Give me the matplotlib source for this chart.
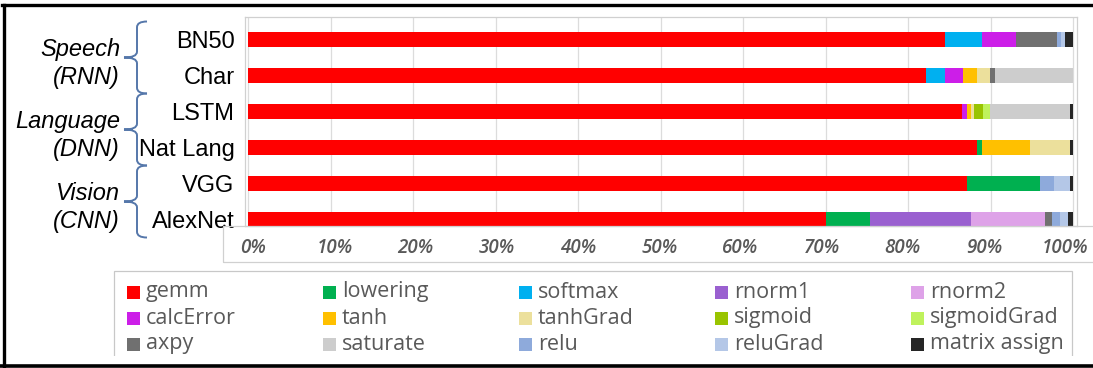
import matplotlib
matplotlib.use("Agg")
import matplotlib.pyplot as plt
import matplotlib.transforms as mtransforms
from matplotlib.patches import Rectangle, PathPatch
from matplotlib.path import Path
from matplotlib.lines import Line2D

# ---- data: share of GPU time per kernel (%) ----
models = ["BN50", "Char", "LSTM", "Nat Lang", "VGG", "AlexNet"]
domains = ["Speech", "Language", "Vision"]
net_types = ["(RNN)", "(DNN)", "(CNN)"]

kernels = ["gemm", "lowering", "softmax", "rnorm1", "rnorm2",
           "calcError", "tanh", "tanhGrad", "sigmoid", "sigmoidGrad",
           "axpy", "saturate", "relu", "reluGrad", "matrix assign"]
kernel_colors = ["#ff0000", "#00b050", "#00b0f0", "#9a60d0", "#dea2e8",
                 "#cc1ee8", "#ffc000", "#ece09c", "#99c400", "#bff25c",
                 "#707070", "#cdcdcd", "#8eaadb", "#b4c7e7", "#262626"]

gemm          = [84.5, 82.2, 86.5, 88.3, 87.1, 70.1]
lowering      = [0.0,  0.0,  0.0,  0.6,  8.9,  5.3]
softmax       = [4.4,  2.3,  0.0,  0.0,  0.0,  0.0]
rnorm1        = [0.0,  0.0,  0.0,  0.0,  0.0,  12.2]
rnorm2        = [0.0,  0.0,  0.0,  0.0,  0.0,  9.0]
calcError     = [4.2,  2.1,  0.6,  0.0,  0.0,  0.0]
tanh          = [0.0,  1.7,  0.5,  5.9,  0.0,  0.0]
tanhGrad      = [0.0,  1.6,  0.4,  4.8,  0.0,  0.0]
sigmoid       = [0.0,  0.0,  1.1,  0.0,  0.0,  0.0]
sigmoidGrad   = [0.0,  0.0,  0.8,  0.0,  0.0,  0.0]
axpy          = [4.9,  0.6,  0.0,  0.0,  0.0,  0.8]
saturate      = [0.0,  9.5,  9.7,  0.0,  0.0,  0.0]
relu          = [0.6,  0.0,  0.0,  0.0,  1.7,  1.0]
reluGrad      = [0.4,  0.0,  0.0,  0.0,  1.9,  1.0]
matrix_assign = [1.0,  0.0,  0.4,  0.4,  0.4,  0.6]

series = [gemm, lowering, softmax, rnorm1, rnorm2, calcError, tanh, tanhGrad,
          sigmoid, sigmoidGrad, axpy, saturate, relu, reluGrad, matrix_assign]

x_ticks = list(range(0, 101, 10))
x_tick_labels = [f"{v}%" for v in x_ticks]

# ---- figure ----
W, H = 1093, 368
fig = plt.figure(figsize=(W / 100, H / 100), dpi=100)
fig.patch.set_facecolor("white")


def fx(px):
    return px / W


def fy(py):
    return 1 - py / H


ax = fig.add_axes([fx(245), fy(226), fx(1077) - fx(245), fy(17) - fy(226)])

rows = list(range(len(models)))
left = [0.0] * len(models)
for name, color, vals in zip(kernels, kernel_colors, series):
    ax.barh(rows, vals, left=left, height=0.4, color=color,
            edgecolor="none", label=name, zorder=3)
    left = [l + v for l, v in zip(left, vals)]

ax.set_xlim(-0.42, 100.48)
ax.set_ylim(5.18, -0.625)

# vertical gridlines
for v in x_ticks:
    ax.axvline(v, color="#dcdcdc", lw=0.9, zorder=1)

for sp in ax.spines.values():
    sp.set_color("#d0d0d0")
    sp.set_linewidth(0.9)

ax.set_yticks(rows)
ax.set_yticklabels(models, fontsize=17, family="Liberation Sans", color="black")
ax.set_xticks(x_ticks)
ax.set_xticklabels(x_tick_labels, fontsize=13.5, family="Open Sans",
                   style="italic", fontweight="semibold", color="#595959")
ax.tick_params(axis="y", length=0, pad=7.5)
ax.tick_params(axis="x", length=0, pad=8.5)
# the percentage labels sit on a slightly tighter pitch than the gridlines
for v, lbl in zip(x_ticks, ax.get_xticklabels()):
    shift_px = 5 - 13 * v / 100
    lbl.set_transform(lbl.get_transform() +
                      mtransforms.ScaledTranslation(shift_px / 100, 0,
                                                    fig.dpi_scale_trans))

# box around the tick-label strip (runs off the right edge)
fig.add_artist(Rectangle((fx(223), fy(262)), fx(1110) - fx(223), fy(226) - fy(262),
                         transform=fig.transFigure, fill=False,
                         edgecolor="#d0d0d0", lw=0.9))

# ---- domain labels and braces ----
trans = mtransforms.blended_transform_factory(fig.transFigure, ax.transData)
for g, (dom, kind) in enumerate(zip(domains, net_types)):
    mid = 2 * g + 0.5
    top, bot = mid - 1.0, mid + 1.0
    ax.text(fx(120), mid - 0.22, dom, transform=trans, ha="right", va="center",
            fontsize=17, family="Liberation Sans", style="italic")
    ax.text(fx(120), mid + 0.56, kind, transform=trans, ha="right", va="center",
            fontsize=17, family="Liberation Sans", style="italic")
    xr, xm, xt, r = fx(147), fx(137), fx(124), 0.16
    verts = [(xr, top), (xm, top), (xm, top + r),
             (xm, mid - r),
             (xm, mid), (xt, mid),
             (xm, mid), (xm, mid + r),
             (xm, bot - r),
             (xm, bot), (xr, bot)]
    codes = [Path.MOVETO, Path.CURVE3, Path.CURVE3,
             Path.LINETO,
             Path.CURVE3, Path.CURVE3,
             Path.CURVE3, Path.CURVE3,
             Path.LINETO,
             Path.CURVE3, Path.CURVE3]
    ax.add_patch(PathPatch(Path(verts, codes), transform=trans, fill=False,
                           edgecolor="#5577aa", lw=1.4, clip_on=False))

# ---- legend (5 columns x 3 rows) ----
fig.add_artist(Rectangle((fx(114), fy(380)), fx(1072) - fx(114), fy(271) - fy(380),
                         transform=fig.transFigure, fill=False,
                         edgecolor="#c8c8c8", lw=0.9))
col_x = [127, 323, 519, 715, 911]
row_y = [292, 318, 344]
for i, (name, color) in enumerate(zip(kernels, kernel_colors)):
    cx, cy = col_x[i % 5], row_y[i // 5]
    fig.add_artist(Rectangle((fx(cx), fy(cy + 6.5)), fx(13), 13 / H,
                             transform=fig.transFigure, facecolor=color,
                             edgecolor="none"))
    fig.text(fx(cx + 19), fy(cy), name, ha="left", va="center",
             fontsize=15.5, family="Open Sans", color="#595959")

# ---- outer frame ----
fig.add_artist(Rectangle((0, 0), 1, fy(356), transform=fig.transFigure,
                         facecolor="white", edgecolor="none", zorder=5))
fig.add_artist(Line2D([fx(2), 1], [fy(5), fy(5)], transform=fig.transFigure,
                      color="black", lw=2.4, zorder=6))
fig.add_artist(Line2D([fx(3.5), fx(3.5)], [fy(5), fy(366)], transform=fig.transFigure,
                      color="black", lw=2.4, zorder=6))
fig.add_artist(Line2D([0, 1], [fy(366), fy(366)], transform=fig.transFigure,
                      color="black", lw=2.6, zorder=6))

fig.savefig("out.png", dpi=100, facecolor="white")
